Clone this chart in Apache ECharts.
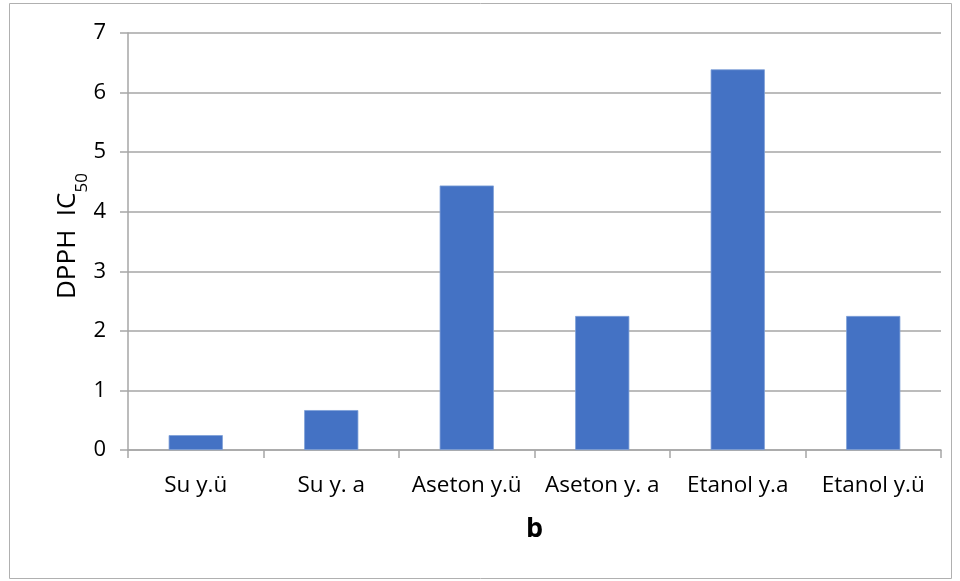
<!DOCTYPE html>
<html>
<head>
<meta charset="utf-8">
<script src="https://cdn.jsdelivr.net/npm/echarts@6/dist/echarts.min.js"></script>
<style>
  html, body { margin: 0; padding: 0; background: #ffffff; }
  #chart { width: 960px; height: 581px; }
</style>
</head>
<body>
<div id="chart"></div>
<script>
// Extract categories and their DPPH IC50 values
const categories = ['Su y.ü', 'Su y. a', 'Aseton y.ü', 'Aseton y. a', 'Etanol y.a', 'Etanol y.ü'];
const ic50Values = [0.25, 0.67, 4.44, 2.25, 6.39, 2.25];
const yTicks = [0, 1, 2, 3, 4, 5, 6, 7];

const FONT = '"Open Sans", "Noto Sans", sans-serif';
const GRID_COLOR = '#a6a6a6';

// Y axis title: "DPPH  IC" with a lowered "50" subscript, drawn rotated
const titleMain = 'DPPH  IC';
const titleSub = '50';
const mainFont = '26px ' + FONT;
const subFont = '17px ' + FONT;
const measureCtx = document.createElement('canvas').getContext('2d');
measureCtx.font = mainFont;
const mainWidth = measureCtx.measureText(titleMain).width;
const titleStartY = 299;   // bottom end of the rotated title
const titleX = 68;         // centre line of the main title glyphs

const chart = echarts.init(document.getElementById('chart'), null, { renderer: 'canvas' });

chart.setOption({
  backgroundColor: '#ffffff',
  animation: false,
  graphic: [
    {
      type: 'rect',
      shape: { x: 9.5, y: 3.5, width: 942, height: 575 },
      style: { fill: 'none', stroke: '#b0b0b0', lineWidth: 1 },
      silent: true,
      z: 0
    },
    {
      type: 'text',
      x: titleX, y: titleStartY,
      rotation: Math.PI / 2,
      style: { text: titleMain, font: mainFont, fill: '#000', align: 'left', verticalAlign: 'middle' },
      silent: true
    },
    {
      type: 'text',
      x: titleX + 14, y: titleStartY - mainWidth,
      rotation: Math.PI / 2,
      style: { text: titleSub, font: subFont, fill: '#000', align: 'left', verticalAlign: 'middle' },
      silent: true
    }
  ],
  grid: { left: 128, right: 19, top: 33, bottom: 131, containLabel: false },
  xAxis: {
    type: 'category',
    data: categories,
    name: 'b',
    nameLocation: 'middle',
    nameGap: 66,
    nameTextStyle: { fontFamily: FONT, fontSize: 27, fontWeight: 'bold', color: '#000' },
    axisLine: { lineStyle: { color: GRID_COLOR, width: 1.5 } },
    axisTick: { show: true, length: 8, lineStyle: { color: GRID_COLOR, width: 1.5 } },
    axisLabel: { fontFamily: FONT, fontSize: 22.5, color: '#000', margin: 24, interval: 0 }
  },
  yAxis: {
    type: 'value',
    min: yTicks[0],
    max: yTicks[yTicks.length - 1],
    interval: 1,
    axisLine: { show: true, lineStyle: { color: GRID_COLOR, width: 1.5 } },
    axisTick: { show: true, length: 8, lineStyle: { color: GRID_COLOR, width: 1.5 } },
    axisLabel: { fontFamily: FONT, fontSize: 22, color: '#000', margin: 22 },
    splitLine: { show: true, lineStyle: { color: GRID_COLOR, width: 1.5 } }
  },
  series: [{
    type: 'bar',
    data: ic50Values,
    barWidth: '40%',
    itemStyle: { color: '#4472c4', borderColor: '#7d9fd8', borderWidth: 0.8 }
  }]
});
</script>
</body>
</html>
